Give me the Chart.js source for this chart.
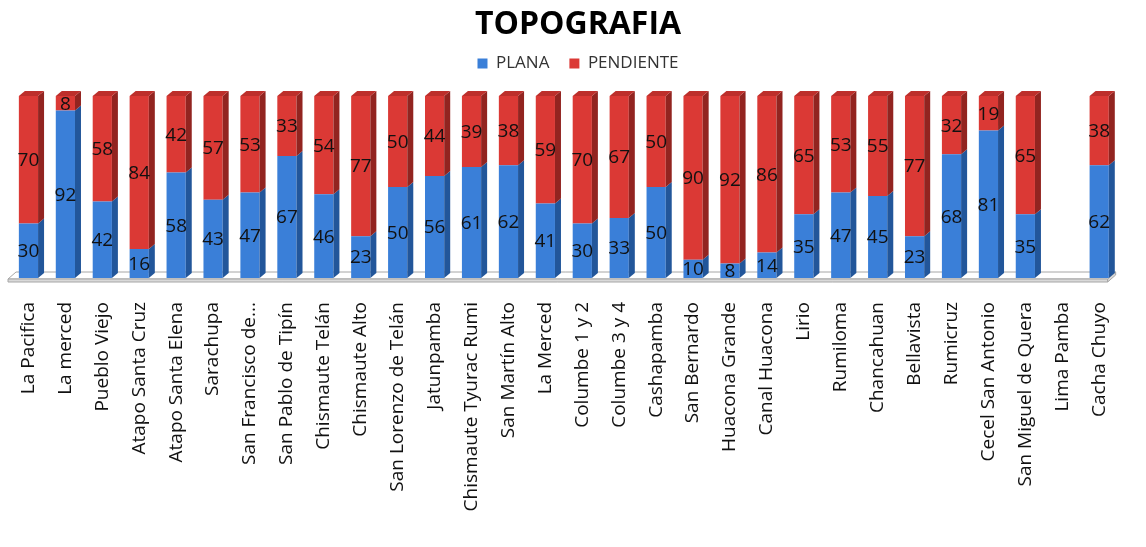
<!DOCTYPE html>
<html>
<head>
<meta charset="utf-8">
<title>TOPOGRAFIA</title>
<script src="https://cdn.jsdelivr.net/npm/chart.js@4.4.1/dist/chart.umd.min.js"></script>
<style>
  html, body { margin: 0; padding: 0; background: #fff; }
  #wrap { position: relative; width: 1146px; height: 547px; }
</style>
</head>
<body>
<div id="wrap"><canvas id="chart"></canvas></div>
<script>
const categories = [
  "La Pacifica", "La merced", "Pueblo Viejo", "Atapo Santa Cruz", "Atapo Santa Elena",
  "Sarachupa", "San Francisco de...", "San Pablo de Tipín", "Chismaute Telán", "Chismaute Alto",
  "San Lorenzo de Telán", "Jatunpamba", "Chismaute Tyurac Rumi", "San Martín Alto", "La Merced",
  "Columbe 1 y 2", "Columbe 3 y 4", "Cashapamba", "San Bernardo", "Huacona Grande",
  "Canal Huacona", "Lirio", "Rumiloma", "Chancahuan", "Bellavista",
  "Rumicruz", "Cecel San Antonio", "San Miguel de Quera", "Lima Pamba", "Cacha Chuyo"
];

const planaValues = [
  30, 92, 42, 16, 58, 43, 47, 67, 46, 23,
  50, 56, 61, 62, 41, 30, 33, 50, 10, 8,
  14, 35, 47, 45, 23, 68, 81, 35, null, 62
];

const pendienteValues = [
  70, 8, 58, 84, 42, 57, 53, 33, 54, 77,
  50, 44, 39, 38, 59, 70, 67, 50, 90, 92,
  86, 65, 53, 55, 77, 32, 19, 65, null, 38
];

const seriesNames = ["PLANA", "PENDIENTE"];

// front / side / top faces for each series
const faceColors = [
  { front: "#3A7FD8", side: "#22569A", top: "#2F6DBE" },
  { front: "#DB3935", side: "#922420", top: "#BD2F2B" }
];

const DEPTH_X = 6;
const DEPTH_Y = 5;

function fillPoly(ctx, pts, color, stroke) {
  ctx.beginPath();
  ctx.moveTo(pts[0][0], pts[0][1]);
  for (let i = 1; i < pts.length; i++) ctx.lineTo(pts[i][0], pts[i][1]);
  ctx.closePath();
  ctx.fillStyle = color;
  ctx.fill();
  if (stroke) {
    ctx.strokeStyle = stroke;
    ctx.lineWidth = 1;
    ctx.stroke();
  }
}

// thin grey floor under the bars
const floorPlugin = {
  id: "floor",
  beforeDatasetsDraw(chart) {
    const { ctx, chartArea } = chart;
    const { left, right, bottom } = chartArea;
    const fl = left - 2, fr = right - 10;
    const d = 8, h = 7;
    ctx.save();
    fillPoly(ctx, [[fl, bottom + 1], [fl + d, bottom + 1 - h], [fr + d, bottom + 1 - h], [fr, bottom + 1]], "#ffffff", "#a6a6a6");
    fillPoly(ctx, [[fl, bottom + 1], [fr, bottom + 1], [fr, bottom + 4], [fl, bottom + 4]], "#d9d9d9", "#a6a6a6");
    fillPoly(ctx, [[fr, bottom + 1], [fr + d, bottom + 1 - h], [fr + d, bottom + 4 - h], [fr, bottom + 4]], "#d9d9d9", "#a6a6a6");
    ctx.restore();
  }
};

// side and top faces, then the value labels
const bars3dPlugin = {
  id: "bars3d",
  afterDatasetsDraw(chart) {
    const { ctx } = chart;
    const metas = chart.data.datasets.map((ds, i) => chart.getDatasetMeta(i));
    ctx.save();
    metas.forEach((meta, di) => {
      const colors = faceColors[di];
      meta.data.forEach((bar, idx) => {
        const v = chart.data.datasets[di].data[idx];
        if (v == null || v === 0) return;
        const { x, y, base, width } = bar.getProps(["x", "y", "base", "width"], true);
        const l = x - width / 2, r = x + width / 2;
        const top = Math.min(y, base), bot = Math.max(y, base);
        fillPoly(ctx, [[r, top], [r + DEPTH_X, top - DEPTH_Y], [r + DEPTH_X, bot - DEPTH_Y], [r, bot]], colors.side);

        // top face only on the highest segment of the stack
        const above = chart.data.datasets.slice(di + 1).some((ds) => ds.data[idx] != null && ds.data[idx] !== 0);
        if (!above) {
          fillPoly(ctx, [[l, top], [l + DEPTH_X, top - DEPTH_Y], [r + DEPTH_X, top - DEPTH_Y], [r, top]], colors.top);
        }
      });
    });

    ctx.font = "19px 'Open Sans'";
    ctx.fillStyle = "#111";
    ctx.textAlign = "center";
    ctx.textBaseline = "middle";
    metas.forEach((meta, di) => {
      meta.data.forEach((bar, idx) => {
        const v = chart.data.datasets[di].data[idx];
        if (v == null || v === 0) return;
        const { x, y, base } = bar.getProps(["x", "y", "base"], true);
        ctx.fillText(String(v), x, (y + base) / 2 + 1);
      });
    });
    ctx.restore();
  }
};

// extra gap between legend and plot
const legendGapPlugin = {
  id: "legendGap",
  beforeLayout(chart) {
    const legend = chart.legend;
    if (!legend || legend._gapWrapped) return;
    const fit = legend.fit;
    legend.fit = function () {
      fit.call(this);
      this.height += 14;
    };
    legend._gapWrapped = true;
  }
};

new Chart(document.getElementById("chart"), {
  type: "bar",
  data: {
    labels: categories,
    datasets: [
      {
        label: seriesNames[0],
        data: planaValues,
        backgroundColor: faceColors[0].front,
        borderWidth: 0,
        barPercentage: 0.52,
        categoryPercentage: 1
      },
      {
        label: seriesNames[1],
        data: pendienteValues,
        backgroundColor: faceColors[1].front,
        borderWidth: 0,
        barPercentage: 0.52,
        categoryPercentage: 1
      }
    ]
  },
  options: {
    responsive: true,
    maintainAspectRatio: false,
    animation: false,
    events: [],
    layout: { padding: { left: 10, right: 0, top: 0, bottom: 0 } },
    plugins: {
      title: {
        display: true,
        text: "TOPOGRAFIA",
        color: "#000",
        font: { family: "'Open Sans'", size: 32, weight: "bold", lineHeight: 0.5 },
        padding: { top: 17, bottom: 2 }
      },
      legend: {
        display: true,
        position: "top",
        labels: {
          boxWidth: 10,
          boxHeight: 10,
          padding: 20,
          color: "#333",
          font: { family: "'Open Sans'", size: 17 }
        }
      },
      tooltip: { enabled: false }
    },
    scales: {
      x: {
        stacked: true,
        grid: { display: false, drawTicks: false },
        border: { display: false },
        ticks: {
          autoSkip: false,
          minRotation: 90,
          maxRotation: 90,
          padding: 24,
          color: "#111",
          font: { family: "'Open Sans'", size: 19 }
        },
        afterFit(scale) {
          scale.height = 269;
        }
      },
      y: {
        stacked: true,
        display: false,
        min: 0,
        max: 100
      }
    }
  },
  plugins: [floorPlugin, bars3dPlugin, legendGapPlugin]
});
</script>
</body>
</html>
